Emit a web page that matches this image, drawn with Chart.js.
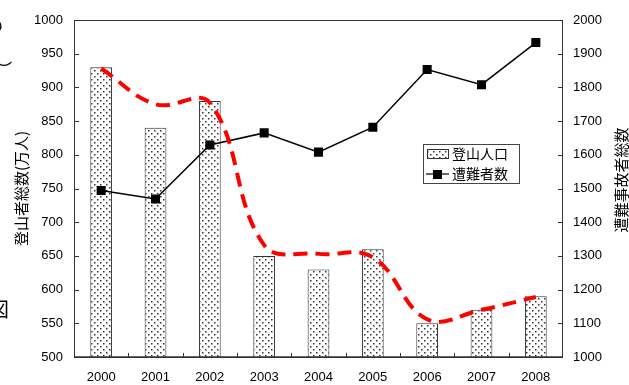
<!DOCTYPE html>
<html lang="ja">
<head>
<meta charset="UTF-8">
<title>登山人口と遭難者数</title>
<script src="https://cdn.jsdelivr.net/npm/chart.js"></script>
<style>
body { margin: 0; background: #fff; overflow: hidden; }
.wrap { position: relative; width: 629px; height: 385px; overflow: hidden; }
.edge { position: absolute; font-family: "Noto Sans CJK JP", sans-serif; color: #000; line-height: 1; }
</style>
</head>
<body>
<div class="wrap">
  <canvas id="chart" width="629" height="385"></canvas>
  <span class="edge" style="left:-13px;top:17px;font-size:16px">の</span>
  <span class="edge" style="left:-4px;top:60px;font-size:16px">︶</span>
  <span class="edge" style="left:-11px;top:299px;font-size:20px">図</span>
  <span class="edge" style="left:-9px;top:351px;font-size:16px">）</span>
</div>
<script>
// data
const years = ['2000', '2001', '2002', '2003', '2004', '2005', '2006', '2007', '2008'];
const climbers = [930, 840, 880, 650, 630, 660, 550, 570, 590];          // 登山人口 (万人)
const accidents = [1494, 1469, 1629, 1665, 1608, 1682, 1853, 1808, 1933]; // 遭難者数
const trendLine = [928, 875, 877, 666, 653, 648, 556, 570, 589];          // red dashed curve

const latin = '"Liberation Sans", Arial, sans-serif';
const cjk = '"Noto Sans CJK JP", sans-serif';

// dotted fill for the bars
function dotPattern() {
  const c = document.createElement('canvas');
  c.width = 6; c.height = 6;
  const g = c.getContext('2d');
  g.fillStyle = '#fff';
  g.fillRect(0, 0, 6, 6);
  g.fillStyle = '#333';
  g.fillRect(1, 1, 1.5, 1.5);
  g.fillRect(4, 4, 1.5, 1.5);
  return document.getElementById('chart').getContext('2d').createPattern(c, 'repeat');
}
const dots = dotPattern();

// frame, inward ticks, axis titles and the legend box
const decor = {
  id: 'decor',
  afterDraw(chart) {
    const ctx = chart.ctx;
    const a = chart.chartArea;
    ctx.save();
    ctx.strokeStyle = '#333';
    ctx.lineWidth = 1;
    ctx.strokeRect(a.left + 0.5, a.top + 0.5, a.right - a.left - 1, a.bottom - a.top);
    ctx.lineWidth = 1.5;
    ctx.beginPath();
    ctx.moveTo(a.left, a.bottom);
    ctx.lineTo(a.right, a.bottom);
    ctx.stroke();

    ctx.lineWidth = 1;
    ctx.beginPath();
    const yL = chart.scales.y, yR = chart.scales.y1, x = chart.scales.x;
    yL.ticks.forEach((t, i) => {
      const p = Math.round(yL.getPixelForTick(i)) + 0.5;
      ctx.moveTo(a.left, p); ctx.lineTo(a.left + 5, p);
    });
    yR.ticks.forEach((t, i) => {
      const p = Math.round(yR.getPixelForTick(i)) + 0.5;
      ctx.moveTo(a.right - 5, p); ctx.lineTo(a.right, p);
    });
    for (let i = 1; i < years.length; i++) {
      const p = Math.round((x.getPixelForTick(i - 1) + x.getPixelForTick(i)) / 2) + 0.5;
      ctx.moveTo(p, a.bottom); ctx.lineTo(p, a.bottom - 4);
    }
    ctx.stroke();

    // axis titles
    ctx.fillStyle = '#000';
    ctx.font = '15px ' + cjk;
    ctx.textAlign = 'center';
    ctx.textBaseline = 'middle';
    ctx.save();
    ctx.translate(21, (a.top + a.bottom) / 2);
    ctx.rotate(-Math.PI / 2);
    ctx.fillText('登山者総数(万人)', 0, 0);
    ctx.restore();
    ctx.save();
    ctx.translate(621, 180);
    ctx.rotate(-Math.PI / 2);
    ctx.fillText('遭難事故者総数', 0, 0);
    ctx.restore();

    // legend
    const lx = 423, ly = 144;
    ctx.strokeStyle = '#444';
    ctx.lineWidth = 1;
    ctx.strokeRect(lx + 0.5, ly + 0.5, 96, 39);
    ctx.fillStyle = dots;
    ctx.fillRect(427, 149, 21, 9);
    ctx.strokeStyle = '#333';
    ctx.strokeRect(427.5, 149.5, 21, 9);
    ctx.lineWidth = 1.5;
    ctx.beginPath();
    ctx.moveTo(426, 174); ctx.lineTo(449, 174);
    ctx.stroke();
    ctx.fillStyle = '#000';
    ctx.fillRect(433, 170, 9, 9);
    ctx.font = '14px ' + cjk;
    ctx.textAlign = 'left';
    ctx.fillText('登山人口', 452, 154);
    ctx.fillText('遭難者数', 452, 174);
    ctx.restore();
  }
};

const plainTick = v => String(v);

new Chart(document.getElementById('chart'), {
  data: {
    labels: years,
    datasets: [
      {
        type: 'line',
        label: 'trend',
        data: trendLine,
        yAxisID: 'y',
        borderColor: '#ff0000',
        borderWidth: 4,
        borderDash: [14, 8],
        tension: 0.4,
        pointRadius: 0,
        fill: false,
        order: 0
      },
      {
        type: 'line',
        label: '遭難者数',
        data: accidents,
        yAxisID: 'y1',
        borderColor: '#000',
        borderWidth: 1.5,
        tension: 0,
        pointStyle: 'rect',
        pointRadius: 6.4,
        pointBackgroundColor: '#000',
        pointBorderWidth: 0,
        fill: false,
        order: 1
      },
      {
        type: 'bar',
        label: '登山人口',
        data: climbers,
        yAxisID: 'y',
        backgroundColor: dots,
        borderColor: '#333',
        borderWidth: 1,
        barPercentage: 0.4,
        categoryPercentage: 1,
        order: 2
      }
    ]
  },
  options: {
    responsive: false,
    animation: false,
    devicePixelRatio: 1,
    layout: { padding: { top: 20, left: 0, right: 0, bottom: 0 } },
    plugins: { legend: { display: false }, tooltip: { enabled: false } },
    scales: {
      x: {
        type: 'category',
        offset: true,
        grid: { display: false, drawTicks: false },
        border: { display: false },
        ticks: { color: '#000', font: { family: latin, size: 13 }, padding: 13, maxRotation: 0 },
        afterFit: s => { s.height = 28; }
      },
      y: {
        position: 'left',
        min: 500,
        max: 1000,
        grid: { display: false, drawTicks: false },
        border: { display: false },
        ticks: { stepSize: 50, color: '#000', font: { family: latin, size: 13 }, padding: 11, callback: plainTick },
        afterFit: s => { s.width = 74; }
      },
      y1: {
        position: 'right',
        min: 1000,
        max: 2000,
        grid: { display: false, drawTicks: false },
        border: { display: false },
        ticks: { stepSize: 100, color: '#000', font: { family: latin, size: 13 }, padding: 10, callback: plainTick },
        afterFit: s => { s.width = 66; }
      }
    }
  },
  plugins: [decor]
});
</script>
</body>
</html>
